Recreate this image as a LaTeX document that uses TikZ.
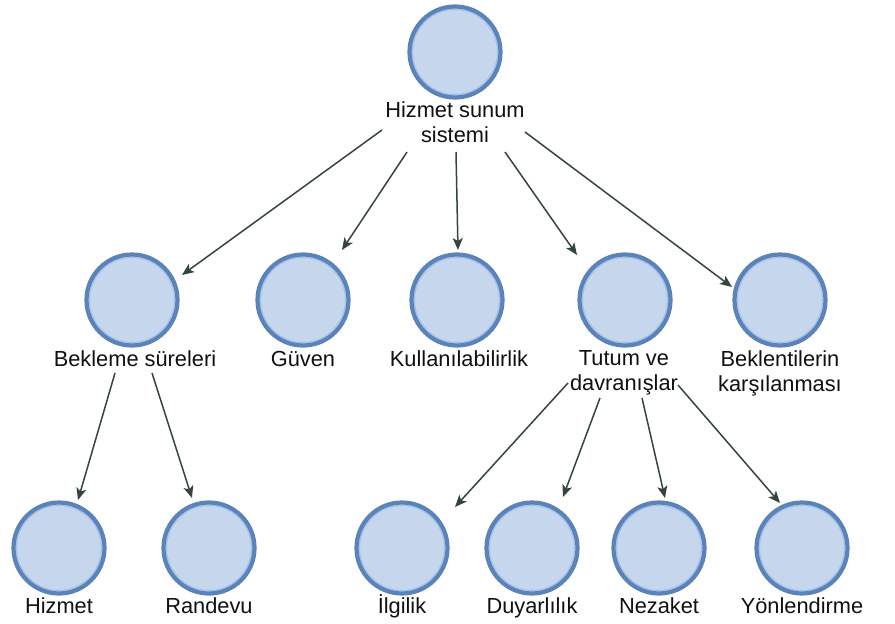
\documentclass[tikz,border=0pt]{standalone}
\usepackage{fontspec}
\setmainfont{Liberation Sans}
\usetikzlibrary{arrows.meta}

\definecolor{cfill}{HTML}{C6D6EC}
\definecolor{cborder}{HTML}{5A84B9}
\definecolor{cinner}{HTML}{A3C0E8}
\definecolor{carrow}{HTML}{34443F}
\definecolor{ctext}{HTML}{101010}

\tikzset{
  bubble/.style={circle, minimum size=91pt, inner sep=0pt, fill=cfill,
    draw=cborder, line width=4.2pt,
    path picture={\draw[cinner, line width=1.2pt]
      (path picture bounding box.center) circle (42.6pt);}},
  caption/.style={anchor=north, inner sep=0pt, align=center, text=ctext,
    font=\fontsize{21.8}{25}\selectfont,
    execute at begin node={\rule{0pt}{20pt}}},
  link/.style={draw=carrow, line width=1.5pt,
    -{Stealth[length=12pt, width=10pt, inset=3pt]}}
}

\begin{document}
\begin{tikzpicture}[x=1pt, y=-1pt]
\useasboundingbox (0,0) rectangle (895,624);

% root
\node[bubble] (r) at (455,52) {};
\node[caption] (rl) at (455,102) {Hizmet sunum\\sistemi};

% second level
\node[bubble] (b1) at (132,300) {};
\node[bubble] (b2) at (303,300) {};
\node[bubble] (b3) at (457,300) {};
\node[bubble] (b4) at (625,300) {};
\node[bubble] (b5) at (780,300) {};
\node[caption] (l1) at (135,346) {Bekleme süreleri};
\node[caption] (l2) at (303,346) {Güven};
\node[caption] (l3) at (459,346) {Kullanılabilirlik};
\node[caption] (l4) at (624,350) {Tutum ve\\davranışlar};
\node[caption] (l5) at (780,350) {Beklentilerin\\karşılanması};

% third level
\node[bubble] (c1) at (59,548) {};
\node[bubble] (c2) at (209,548) {};
\node[bubble] (c3) at (402,548) {};
\node[bubble] (c4) at (532,548) {};
\node[bubble] (c5) at (659,548) {};
\node[bubble] (c6) at (802,548) {};
\node[caption] (m1) at (59,593) {Hizmet};
\node[caption] (m2) at (209,593) {Randevu};
\node[caption] (m3) at (402,593) {İlgilik};
\node[caption] (m4) at (532,593) {Duyarlılık};
\node[caption] (m5) at (659,593) {Nezaket};
\node[caption] (m6) at (802,593) {Yönlendirme};

% links from the root
\draw[link] ([shift={(-73,28)}]rl.north) -- ([shift={(50,-25)}]b1.center);
\draw[link] ([shift={(-48,50)}]rl.north) -- ([shift={(39,-50)}]b2.center);
\draw[link] ([shift={(1,50)}]rl.north)   -- ([shift={(1,-50)}]b3.center);
\draw[link] ([shift={(50,50)}]rl.north)  -- ([shift={(-48,-45)}]b4.center);
\draw[link] ([shift={(70,30)}]rl.north)  -- ([shift={(-48,-13)}]b5.center);

% links from "Bekleme süreleri"
\draw[link] ([shift={(-20,27)}]l1.north) -- ([shift={(19,-48)}]c1.center);
\draw[link] ([shift={(17,27)}]l1.north)  -- ([shift={(-17,-50)}]c2.center);

% links from "Tutum ve davranışlar"
\draw[link] ([shift={(-56,33)}]l4.north) -- ([shift={(53,-41)}]c3.center);
\draw[link] ([shift={(-24,48)}]l4.north) -- ([shift={(31,-51)}]c4.center);
\draw[link] ([shift={(18,48)}]l4.north)  -- ([shift={(6,-50)}]c5.center);
\draw[link] ([shift={(54,35)}]l4.north)  -- ([shift={(-22,-45)}]c6.center);
\end{tikzpicture}
\end{document}
